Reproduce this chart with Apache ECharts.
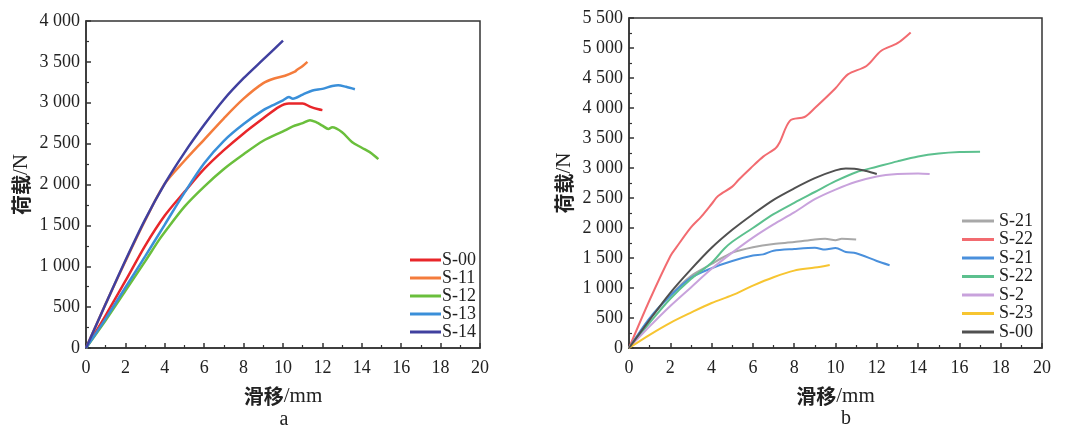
<!DOCTYPE html>
<html><head><meta charset="utf-8">
<script src="https://cdn.jsdelivr.net/npm/echarts@6/dist/echarts.min.js"></script>
<style>html,body{margin:0;padding:0;background:#fff}#c{width:1080px;height:443px}</style>
</head><body><div id="c"></div>
<script>
// ---- chart a data: [slip mm, load N]
const a_names = ['S-00','S-11','S-12','S-13','S-14'];
const a_S00 = [[0,0],[1,400],[2,820],[3,1250],[4,1620],[5,1910],[6,2190],[7,2420],[8,2625],[9,2810],[9.8,2950],[10.3,2990],[11,2990],[11.4,2950],[11.8,2920],[12,2910]];
const a_S11 = [[0,0],[1,540],[2,1060],[3,1560],[4,2010],[5,2290],[6,2550],[7,2810],[8,3050],[9,3240],[9.6,3300],[10.1,3330],[10.6,3380],[10.7,3400],[11.0,3450],[11.24,3500]];
const a_S12 = [[0,0],[1,340],[2,700],[3,1060],[3.7,1320],[4,1420],[5,1730],[6,1975],[7,2190],[8,2370],[9,2535],[10,2650],[10.5,2710],[11,2750],[11.37,2787],[11.7,2760],[12,2720],[12.3,2680],[12.5,2700],[13,2640],[13.5,2520],[14,2450],[14.5,2380],[14.84,2310]];
const a_S13 = [[0,0],[1,360],[2,740],[3,1120],[4,1510],[5,1900],[6,2260],[7,2535],[8,2740],[9,2910],[9.5,2970],[10,3030],[10.3,3070],[10.5,3050],[11,3100],[11.5,3150],[12,3170],[12.5,3205],[12.8,3215],[13.2,3195],[13.65,3165]];
const a_S14 = [[0,0],[1,540],[2,1070],[3,1570],[4,2010],[5,2390],[6,2730],[7,3040],[8,3300],[9,3530],[10,3760]];
const a_colors = ['#e8262a','#f47c3c','#6abf3c','#3a8fd9','#40409f'];

// ---- chart b data
const b_names = ['S-21','S-22','S-21\u200b','S-22\u200b','S-2','S-23','S-00\u200b'];
const b_S21g = [[0,0],[1,480],[2,880],[3,1200],[4,1400],[4.5,1500],[5,1590],[6,1680],[7,1735],[8,1765],[9,1810],[9.5,1820],[10,1795],[10.3,1820],[11,1810]];
const b_S22r = [[0,0],[1,800],[2,1530],[2.3,1680],[3,2010],[3.5,2190],[4,2400],[4.3,2530],[5,2690],[5.3,2800],[5.9,3000],[6.5,3190],[7.1,3330],[7.3,3430],[7.8,3790],[8.5,3850],[9,4000],[10,4330],[10.6,4560],[11.5,4700],[12.2,4950],[13,5080],[13.64,5260]];
const b_S21b = [[0,0],[1,500],[2,870],[3,1170],[4,1330],[5,1450],[6,1540],[6.5,1560],[7,1620],[8,1650],[9,1670],[9.5,1640],[10,1665],[10.5,1600],[11,1580],[12,1450],[12.62,1380]];
const b_S22g = [[0,0],[1,420],[2,820],[3,1150],[4,1420],[4.6,1650],[5,1770],[6,2000],[7,2230],[8,2420],[9,2600],[10,2780],[11,2930],[12,3020],[13,3110],[14,3190],[15,3240],[16,3265],[17,3270]];
const b_S2 = [[0,0],[1,360],[2,700],[3,1010],[4,1320],[5,1590],[6,1840],[7,2060],[8,2260],[9,2480],[10,2640],[11,2770],[12,2860],[13,2900],[14,2910],[14.56,2900]];
const b_S23 = [[0,0],[1,220],[2,420],[3,590],[4,750],[5,880],[6,1040],[7,1180],[8,1290],[9,1340],[9.72,1385]];
const b_S00 = [[0,0],[1,470],[2,920],[3,1310],[4,1670],[5,1970],[6,2230],[7,2470],[8,2660],[9,2830],[10,2960],[10.5,2990],[11,2985],[11.5,2950],[12,2900]];
const b_colors = ['#a8a8a8','#f26b70','#4a90dc','#5cc08e','#c8a2dc','#f7c531','#505050'];

const xTicks = {min:0, max:20, interval:2};
const yTicksA = {min:0, max:4000, interval:500};
const yTicksB = {min:0, max:5500, interval:500};

const FONT = 'Liberation Serif, Times New Roman, serif';
const fmt = v => { const s = String(v); return s.length > 3 ? s.slice(0, s.length-3) + ' ' + s.slice(-3) : s; };
const nameRich = {c:{fontFamily:'Noto Sans CJK SC',fontWeight:'bold',fontSize:20,color:'#222'},t:{fontFamily:FONT,fontSize:21,color:'#222'}};

function xAxis(gi){
  return {type:'value', gridIndex:gi, min:xTicks.min, max:xTicks.max, interval:xTicks.interval,
    name:'{c|滑移}{t|/mm}', nameLocation:'middle', nameGap:38,
    nameTextStyle:{rich:nameRich},
    axisLine:{lineStyle:{color:'#333',width:1.5}},
    axisTick:{inside:true,length:5,lineStyle:{color:'#333',width:1.5}},
    minorTick:{show:true,splitNumber:2,length:3,lineStyle:{color:'#333',width:1.2}},
    splitLine:{show:false},
    axisLabel:{fontFamily:FONT,fontSize:18,color:'#222',margin:11}};
}
function yAxis(gi, t){
  return {type:'value', gridIndex:gi, min:t.min, max:t.max, interval:t.interval,
    name:'{c|荷载}{t|/N}', nameLocation:'middle', nameGap:54, nameRotate:90,
    nameTextStyle:{rich:nameRich},
    axisLine:{lineStyle:{color:'#333',width:1.5}},
    axisTick:{inside:true,length:5,lineStyle:{color:'#333',width:1.5}},
    minorTick:{show:true,splitNumber:2,length:3,lineStyle:{color:'#333',width:1.2}},
    splitLine:{show:false},
    axisLabel:{fontFamily:FONT,fontSize:18,color:'#222',margin:6,formatter:fmt}};
}
function mk(name, data, color, gi, w){
  return {name, type:'line', xAxisIndex:gi, yAxisIndex:gi, data, showSymbol:false, smooth:0.3,
    lineStyle:{color, width:w}, itemStyle:{color}, animation:false};
}

const aData = [a_S00,a_S11,a_S12,a_S13,a_S14];
const bData = [b_S21g,b_S22r,b_S21b,b_S22g,b_S2,b_S23,b_S00];
const series = [];
aData.forEach((d,i)=>series.push(mk(a_names[i], d, a_colors[i], 0, 2.5)));
bData.forEach((d,i)=>series.push(mk(b_names[i], d, b_colors[i], 1, 2)));

const chart = echarts.init(document.getElementById('c'), null, {renderer:'canvas'});
chart.setOption({
  backgroundColor:'#fff',
  animation:false,
  title:[
    {text:'a', left:279, top:405, textAlign:'center', textStyle:{fontFamily:FONT,fontSize:20,fontWeight:'normal',color:'#222'}},
    {text:'b', left:841, top:404, textAlign:'center', textStyle:{fontFamily:FONT,fontSize:20,fontWeight:'normal',color:'#222'}}
  ],
  grid:[
    {left:86, top:21, width:394, height:327, show:true, borderColor:'#333', borderWidth:1.5, backgroundColor:'transparent'},
    {left:629, top:18, width:413, height:330, show:true, borderColor:'#333', borderWidth:1.5, backgroundColor:'transparent'}
  ],
  xAxis:[xAxis(0), xAxis(1)],
  yAxis:[yAxis(0, yTicksA), yAxis(1, yTicksB)],
  legend:[
    {data:a_names, orient:'vertical', left:405, top:246, itemWidth:31, itemHeight:3, itemGap:0, icon:'rect',
     textStyle:{fontFamily:FONT,fontSize:18,color:'#222',lineHeight:17,padding:[0,0,0,-4]}},
    {data:b_names, orient:'vertical', left:957, top:207, itemWidth:32, itemHeight:3, itemGap:0.5, icon:'rect',
     textStyle:{fontFamily:FONT,fontSize:18,color:'#222',lineHeight:17,padding:[0,0,0,0]}}
  ],
  series
});
</script></body></html>
